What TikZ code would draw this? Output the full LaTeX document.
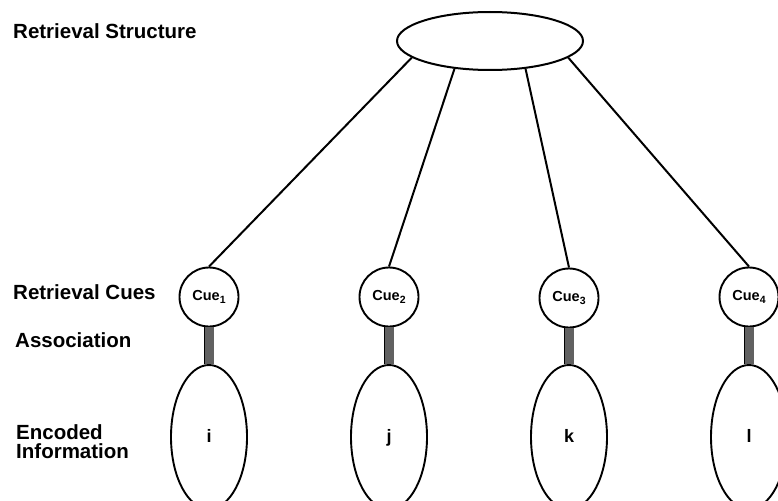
\documentclass[tikz,border=0pt]{standalone}
\usepackage{fontspec}
\setmainfont{Liberation Sans}
\usetikzlibrary{shapes.geometric}
\newcommand{\cuesub}[1]{\raisebox{-0.5ex}{\fontsize{10.5}{10.5}\selectfont #1}}
\begin{document}
\begin{tikzpicture}[x=1pt,y=-1pt,
  lbl/.style={anchor=base west, inner sep=0pt, align=left,
    font=\fontsize{20.5}{19}\selectfont\bfseries},
  hub/.style={ellipse, draw, line width=2pt, fill=white,
    minimum width=186pt, minimum height=58pt, inner sep=0pt},
  cue/.style={circle, draw, line width=1.9pt, fill=white,
    minimum size=59pt, inner sep=0pt,
    font=\fontsize{14.5}{14.5}\selectfont\bfseries},
  info/.style={ellipse, draw, line width=1.9pt, fill=white,
    minimum width=76pt, minimum height=144pt, inner sep=0pt,
    text height=13pt, text depth=2pt,
    font=\fontsize{18}{18}\selectfont\bfseries},
  link/.style={line width=2pt},
  assoc/.style={draw=black, line width=0.8pt, double=black!62,
    double distance=9pt}]
\useasboundingbox (0,0) rectangle (778,500);
\clip (0,0) rectangle (778,500);

% row labels
\node[lbl] (tRS) at (13,39) {Retrieval Structure};
\node[lbl] (tRC) at (13,299) {Retrieval Cues};
\node[lbl] (tAs) at (15,347) {Association};
\node[lbl] (tEI) at (16,458) {Encoded\\Information};

% retrieval structure
\node[hub] (hub) at (490,41) {};

% retrieval cues
\node[cue] (c1) at (209,297) {Cue\cuesub{1}};
\node[cue] (c2) at (389,297) {Cue\cuesub{2}};
\node[cue] (c3) at (569,298) {Cue\cuesub{3}};
\node[cue] (c4) at (749,297) {Cue\cuesub{4}};

% encoded information
\node[info] (e1) at (209,437) {i};
\node[info] (e2) at (389,437) {j};
\node[info] (e3) at (569,437) {k};
\node[info] (e4) at (749,437) {l};

% structure to cues
\draw[link] (hub.192) -- (c1.north);
\draw[link] (hub.218) -- (c2.north);
\draw[link] (hub.322) -- (c3.north);
\draw[link] (hub.348) -- (c4.north);

% associations
\draw[assoc] (c1.south) -- (e1.north);
\draw[assoc] (c2.south) -- (e2.north);
\draw[assoc] (c3.south) -- (e3.north);
\draw[assoc] (c4.south) -- (e4.north);
\end{tikzpicture}
\end{document}
